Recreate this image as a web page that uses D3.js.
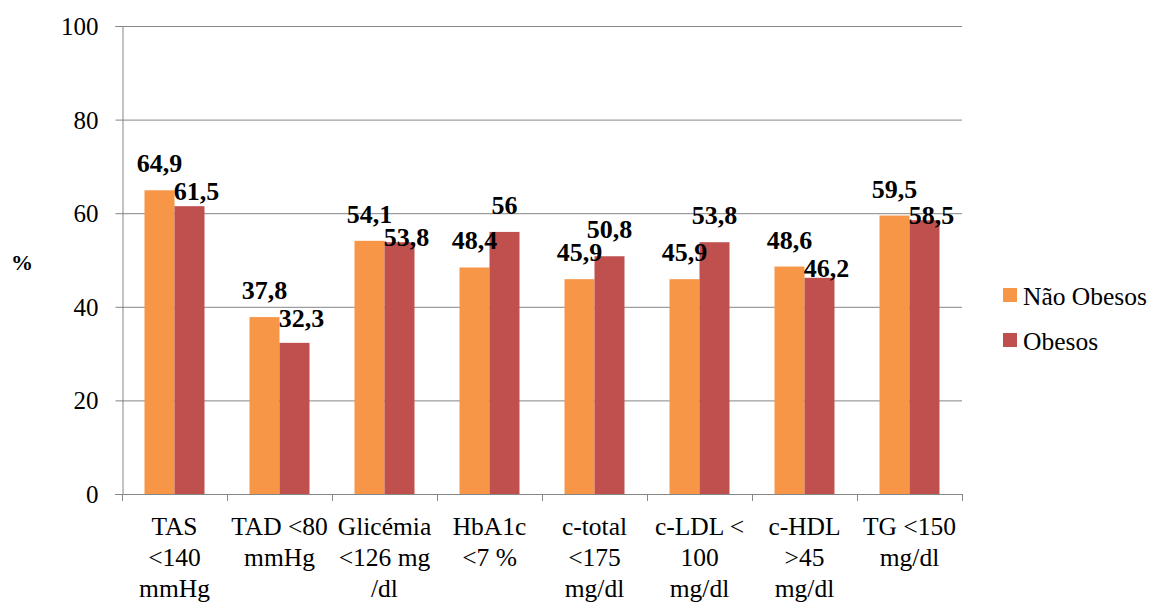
<!DOCTYPE html>
<html>
<head>
<meta charset="utf-8">
<script src="https://cdn.jsdelivr.net/npm/d3@7"></script>
<style>
  html, body { margin: 0; padding: 0; background: #fff; }
  svg { display: block; }
  svg text { font-family: "Liberation Serif", "Times New Roman", Tinos, "DejaVu Serif", serif; }
</style>
</head>
<body>
<svg id="chart" width="1154" height="609"></svg>
<script>
// Category labels (one entry per wrapped line)
const categories = [
  ["TAS", "<140", "mmHg"],
  ["TAD <80", "mmHg"],
  ["Glicémia", "<126 mg", "/dl"],
  ["HbA1c", "<7 %"],
  ["c-total", "<175", "mg/dl"],
  ["c-LDL <", "100", "mg/dl"],
  ["c-HDL", ">45", "mg/dl"],
  ["TG <150", "mg/dl"]
];
const seriesNames = ["Não Obesos", "Obesos"];
const naoObesos = [64.9, 37.8, 54.1, 48.4, 45.9, 45.9, 48.6, 59.5];
const obesos    = [61.5, 32.3, 53.8, 56, 50.8, 53.8, 46.2, 58.5];
const yTicks = [0, 20, 40, 60, 80, 100];
const colors = ["#F79646", "#C0504D"];

const svg = d3.select("#chart");
const plot = { left: 122, right: 962, top: 26, bottom: 494 };
const catKeys = categories.map((c, i) => i);
const values = [naoObesos, obesos];

const x0 = d3.scaleBand().domain(catKeys).range([plot.left, plot.right]).padding(0);
const x1 = d3.scaleBand().domain([0, 1]).range([0, x0.bandwidth()])
  .paddingInner(0).paddingOuter(0.75);
const y = d3.scaleLinear().domain([0, 100]).range([plot.bottom, plot.top]);

const axisColor = "#868686";

// Horizontal gridlines
svg.append("g").selectAll("line").data(yTicks.filter(t => t > 0)).join("line")
  .attr("x1", plot.left).attr("x2", plot.right)
  .attr("y1", d => y(d) + 0.5).attr("y2", d => y(d) + 0.5)
  .attr("stroke", axisColor).attr("stroke-width", 1);

// Y axis
const yAxis = svg.append("g")
  .attr("transform", `translate(${plot.left + 0.5},0)`)
  .call(d3.axisLeft(y).tickValues(yTicks).tickSize(7).tickPadding(17).tickFormat(d3.format("d")));
yAxis.attr("font-family", null);
yAxis.select(".domain").attr("stroke", axisColor);
yAxis.selectAll(".tick line").attr("stroke", axisColor);
yAxis.selectAll(".tick text")
  .attr("font-size", 25).attr("fill", "#000").attr("dy", "0.34em");

// Y title
svg.append("text").attr("x", 22).attr("y", 270)
  .attr("text-anchor", "middle").attr("font-size", 22).attr("font-weight", "bold")
  .text("%");

// Bars
const groups = svg.append("g").selectAll("g").data(catKeys).join("g")
  .attr("transform", d => `translate(${x0(d)},0)`);
groups.selectAll("rect").data(i => [0, 1].map(s => ({ s, v: values[s][i] }))).join("rect")
  .attr("x", d => x1(d.s))
  .attr("width", x1.bandwidth())
  .attr("y", d => y(d.v))
  .attr("height", d => y(0) - y(d.v))
  .attr("fill", d => colors[d.s]);

// X axis with ticks at category boundaries
const xAxisG = svg.append("g");
xAxisG.append("line")
  .attr("x1", plot.left - 7).attr("x2", plot.right)
  .attr("y1", plot.bottom + 0.5).attr("y2", plot.bottom + 0.5)
  .attr("stroke", axisColor);
const bounds = catKeys.map(k => x0(k)).concat([plot.right]);
xAxisG.selectAll("line.tk").data(bounds).join("line").attr("class", "tk")
  .attr("x1", d => d + 0.5).attr("x2", d => d + 0.5)
  .attr("y1", plot.bottom).attr("y2", plot.bottom + 7)
  .attr("stroke", axisColor);

// Category labels
const catLabels = svg.append("g").selectAll("text").data(catKeys).join("text")
  .attr("text-anchor", "middle").attr("font-size", 25.5).attr("fill", "#000")
  .attr("x", d => x0(d) + x0.bandwidth() / 2)
  .attr("y", 535);
catLabels.selectAll("tspan").data(d => categories[d]).join("tspan")
  .attr("x", function () { return this.parentNode.getAttribute("x"); })
  .attr("dy", (d, i) => i === 0 ? 0 : 31)
  .text(d => d);

// Value labels: above each bar; the second series label is nudged right and
// dropped below the first series label when its bar is the shorter one.
const fmt = v => String(v).replace(".", ",");
const valueLabels = svg.append("g").attr("font-size", 26).attr("font-weight", "bold");
catKeys.forEach(i => {
  const cx0 = x0(i) + x1(0) + x1.bandwidth() / 2;
  const cx1 = x0(i) + x1(1) + x1.bandwidth() / 2;
  const b0 = y(naoObesos[i]) - 18;
  let b1 = y(obesos[i]) - 18;
  let dx1 = 0;
  if (obesos[i] < naoObesos[i]) {
    b1 = Math.max(b1, Math.min(b0 + 28, y(obesos[i]) + 4));
    dx1 = 7;
  }
  valueLabels.append("text").attr("text-anchor", "middle")
    .attr("x", cx0).attr("y", b0).text(fmt(naoObesos[i]));
  valueLabels.append("text").attr("text-anchor", "middle")
    .attr("x", cx1 + dx1).attr("y", b1).text(fmt(obesos[i]));
});

// Legend
const legend = svg.append("g").selectAll("g").data(seriesNames).join("g")
  .attr("transform", (d, i) => `translate(1003,${288 + i * 45})`);
legend.append("rect").attr("width", 14).attr("height", 14)
  .attr("fill", (d, i) => colors[i]);
legend.append("text").attr("x", 20).attr("y", 17)
  .attr("font-size", 25.5).attr("fill", "#000").text(d => d);
</script>
</body>
</html>
